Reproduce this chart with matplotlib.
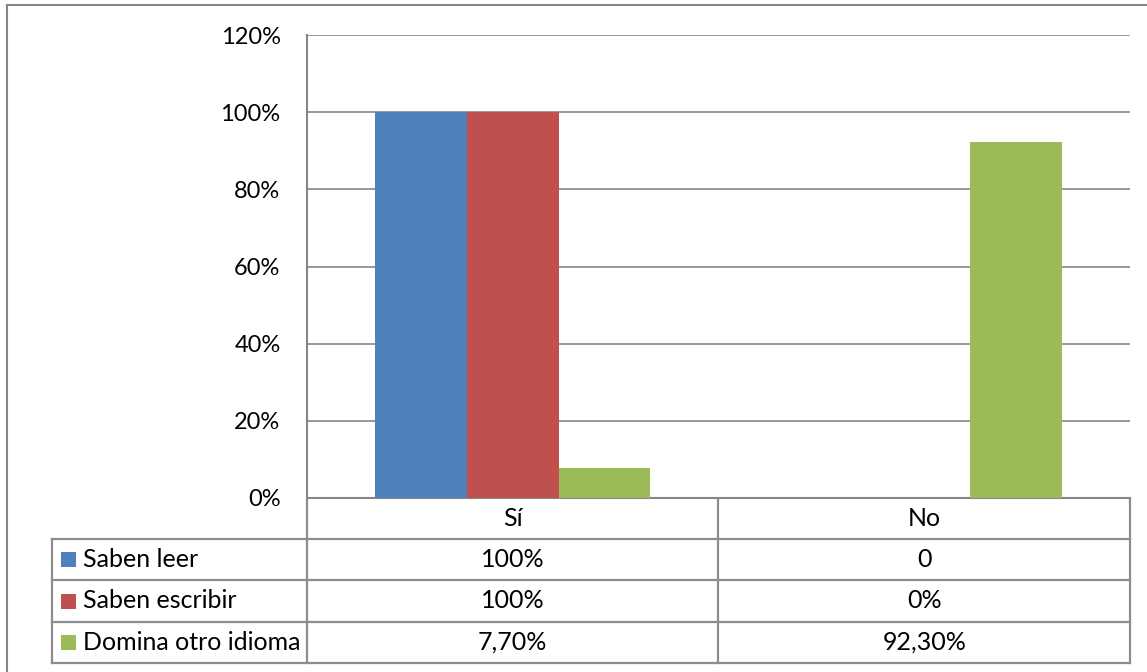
import matplotlib.pyplot as plt
import matplotlib.transforms as mtransforms
from matplotlib.lines import Line2D
from matplotlib.patches import Rectangle
import numpy as np

plt.rcParams['font.family'] = ['Lato', 'DejaVu Sans']

# Data
categories = ['Sí', 'No']
series = ['Saben leer', 'Saben escribir', 'Domina otro idioma']
values = [
    [1.00, 0.00],
    [1.00, 0.00],
    [0.077, 0.923],
]
table_text = [
    ['100%', '0'],
    ['100%', '0%'],
    ['7,70%', '92,30%'],
]
colors = ['#4F81BD', '#C0504D', '#9BBB59']

W, H = 1147, 672
GRID = '#868686'
TICK_FS = 17
TXT = 18


def fx(px):
    return px / W


def fy(py):
    return 1 - py / H


fig = plt.figure(figsize=(W / 100, H / 100), dpi=100)
ax = fig.add_axes([fx(307), fy(498), fx(1130) - fx(307), fy(35) - fy(498)])

# Grouped bars
x = np.arange(len(categories))
bw = 0.2226
for i, (name, vals) in enumerate(zip(series, values)):
    ax.bar(x + (i - 1) * bw, vals, width=bw, color=colors[i], label=name, zorder=3)

ax.set_xlim(-0.5, len(categories) - 0.5)
ax.set_ylim(0, 1.2)
yt = np.arange(0, 1.21, 0.2)
ax.set_yticks(yt)
ax.set_yticklabels([f'{int(round(v * 100))}%' for v in yt], fontsize=TICK_FS)
ax.tick_params(axis='y', length=0, pad=19)
ax.set_xticks([])
ax.grid(axis='y', color=GRID, linewidth=1.2, zorder=0)
for side in ['top', 'right']:
    ax.spines[side].set_visible(False)
for side in ['left', 'bottom']:
    ax.spines[side].set_color(GRID)
    ax.spines[side].set_linewidth(1.5)

# Data table under the chart
row_edges = [498, 539, 580, 622, 663]
col_edges = [307, 718, 1130]
lw = 1.6
tcol = '#8C8C8C'


def hline(y, x0, x1):
    fig.add_artist(Line2D([fx(x0), fx(x1)], [fy(y), fy(y)], color=tcol, lw=lw))


def vline(xp, y0, y1):
    fig.add_artist(Line2D([fx(xp), fx(xp)], [fy(y0), fy(y1)], color=tcol, lw=lw))


for y in row_edges[1:]:
    hline(y, 52, 1130)
for xp in col_edges:
    vline(xp, 498, 663)
vline(52, 539, 663)

trans = mtransforms.blended_transform_factory(ax.transData, fig.transFigure)
hy = fy((row_edges[0] + row_edges[1]) / 2)
for j, cat in enumerate(categories):
    ax.text(x[j], hy, cat, transform=trans, ha='center', va='center', fontsize=TXT)

for i, name in enumerate(series):
    cy = (row_edges[i + 1] + row_edges[i + 2]) / 2
    fig.add_artist(Rectangle((fx(61), fy(cy + 7.5)), fx(15), 15 / H,
                             facecolor=colors[i], edgecolor='none'))
    fig.text(fx(83), fy(cy), name, ha='left', va='center', fontsize=TXT)
    for j in range(len(categories)):
        ax.text(x[j], fy(cy), table_text[i][j], transform=trans,
                ha='center', va='center', fontsize=TXT)

# Outer chart frame
fig.add_artist(Line2D([fx(7), 1], [fy(5), fy(5)], color=GRID, lw=1.5))
fig.add_artist(Line2D([fx(7), fx(7)], [fy(5), 0], color=GRID, lw=1.5))

fig.savefig('out.png', dpi=100)
